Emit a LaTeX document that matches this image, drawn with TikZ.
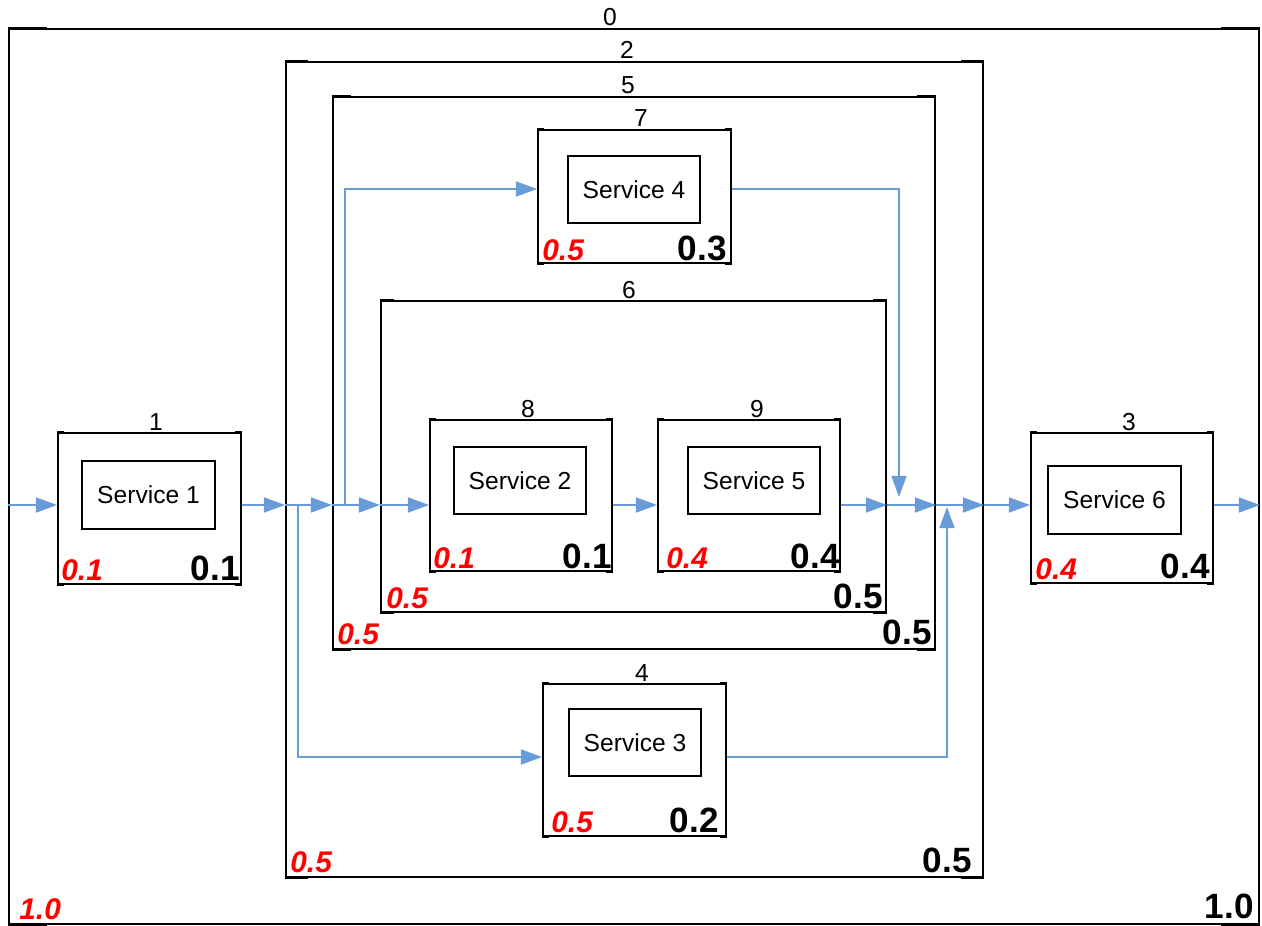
\documentclass[tikz,border=0pt]{standalone}
\usepackage{fontspec}
\setmainfont{Liberation Sans}
\usetikzlibrary{arrows.meta,fit}
\definecolor{flowblue}{RGB}{106,155,217}
\definecolor{valred}{RGB}{255,0,0}
\newcommand\idxfont{\fontsize{14}{17}\selectfont}
\newcommand\svcfont{\fontsize{14}{17}\selectfont}
\newcommand\bigvalfont{\fontsize{20}{24}\selectfont\bfseries}
\newcommand\redvalfont{\fontsize{17}{20}\selectfont\bfseries\itshape}
% thicker short pieces at the four corners of a block
\newcommand\cornermarks[2]{%
  \draw[cornermark] (#1.north west) -- ([xshift=#2]#1.north west);
  \draw[cornermark] (#1.north east) -- ([xshift=-#2]#1.north east);
  \draw[cornermark] (#1.south west) -- ([xshift=#2]#1.south west);
  \draw[cornermark] (#1.south east) -- ([xshift=-#2]#1.south east);
}
\begin{document}
\begin{tikzpicture}[x=0.02cm,y=-0.02cm,
  block/.style={draw=black, line width=1.1pt, inner sep=0pt, fit={#1}},
  svcbox/.style={draw=black, line width=0.6pt, inner sep=0pt, fit={#1}},
  svctext/.style={inner sep=0pt, font=\svcfont},
  cornermark/.style={draw=black, line width=1.7pt},
  idx/.style={anchor=base, inner sep=0pt, font=\idxfont},
  rv/.style={anchor=base west, inner sep=0pt, text=valred, font=\redvalfont},
  bv/.style={anchor=base east, inner sep=0pt, font=\bigvalfont},
  flow/.style={draw=flowblue, line width=1.1pt, -{Triangle[length=12pt,width=8.5pt]}},
]
\useasboundingbox (0,0) rectangle (1262,926);

% nested blocks
\node[block={(9,29) (1259,924)}]     (b0) {};
\node[block={(286,62) (983,877)}]    (b2) {};
\node[block={(333,97) (935,649)}]    (b5) {};
\node[block={(538,130) (731,263)}]   (b7) {};
\node[block={(381,301) (886,612)}]   (b6) {};
\node[block={(430,420) (612,571)}]   (b8) {};
\node[block={(658,420) (840,571)}]   (b9) {};
\node[block={(543,684) (726,836)}]   (b4) {};
\node[block={(58,433) (241,584)}]    (b1) {};
\node[block={(1031,433) (1213,583)}] (b3) {};

\cornermarks{b0}{22pt}
\cornermarks{b2}{13pt}
\cornermarks{b5}{11pt}
\cornermarks{b6}{8pt}
\foreach \n in {b7,b8,b9,b4,b1,b3} {\cornermarks{\n}{4pt}}

% services
\node[svcbox={(82,461) (215,529)}]    (s1) {};
\node[svcbox={(454,447) (586,514)}]   (s2) {};
\node[svcbox={(569,709) (701,776)}]   (s3) {};
\node[svcbox={(568,156) (700,223)}]   (s4) {};
\node[svcbox={(688,447) (820,514)}]   (s5) {};
\node[svcbox={(1048,466) (1181,534)}] (s6) {};
\node[svctext] (n1) at (s1.center) {Service 1};
\node[svctext] (n2) at (s2.center) {Service 2};
\node[svctext] (n3) at (s3.center) {Service 3};
\node[svctext] (n4) at (s4.center) {Service 4};
\node[svctext] (n5) at (s5.center) {Service 5};
\node[svctext] (n6) at (s6.center) {Service 6};

% block numbers
\node[idx] (t0) at (610,26)   {0};
\node[idx] (t2) at (627,59)   {2};
\node[idx] (t5) at (628,94)   {5};
\node[idx] (t7) at (641,127)  {7};
\node[idx] (t6) at (629,298)  {6};
\node[idx] (t8) at (528,417)  {8};
\node[idx] (t9) at (757,417)  {9};
\node[idx] (t4) at (642,681)  {4};
\node[idx] (t1) at (156,430)  {1};
\node[idx] (t3) at (1129,430) {3};

% values: red lower left, black lower right
\node[rv] (r0) at ([shift={(11,-5)}]b0.south west) {1.0};
\node[bv] (v0) at ([shift={(-6,-6)}]b0.south east) {1.0};
\node[rv] (r2) at ([shift={(5,-5)}]b2.south west) {0.5};
\node[bv] (v2) at ([shift={(-12,-5)}]b2.south east) {0.5};
\node[rv] (r5) at ([shift={(5,-5)}]b5.south west) {0.5};
\node[bv] (v5) at ([shift={(-4,-5)}]b5.south east) {0.5};
\node[rv] (r6) at ([shift={(6,-4)}]b6.south west) {0.5};
\node[bv] (v6) at ([shift={(-4,-4)}]b6.south east) {0.5};
\node[rv] (r7) at ([shift={(5,-3)}]b7.south west) {0.5};
\node[bv] (v7) at ([shift={(-5,-3)}]b7.south east) {0.3};
\node[rv] (r8) at ([shift={(4,-3)}]b8.south west) {0.1};
\node[bv] (v8) at ([shift={(-1,-3)}]b8.south east) {0.1};
\node[rv] (r9) at ([shift={(9,-3)}]b9.south west) {0.4};
\node[bv] (v9) at ([shift={(-1,-3)}]b9.south east) {0.4};
\node[rv] (r4) at ([shift={(9,-4)}]b4.south west) {0.5};
\node[bv] (v4) at ([shift={(-8,-4)}]b4.south east) {0.2};
\node[rv] (r1) at ([shift={(4,-4)}]b1.south west) {0.1};
\node[bv] (v1) at ([shift={(-2,-4)}]b1.south east) {0.1};
\node[rv] (r3) at ([shift={(5,-4)}]b3.south west) {0.4};
\node[bv] (v3) at ([shift={(-4,-5)}]b3.south east) {0.4};

% flow levels and branch points
\coordinate (m)  at (0,505);
\coordinate (hi) at (0,189);
\coordinate (lo) at (0,757);
\coordinate (fork1) at (345,505);
\coordinate (fork2) at (298,505);
\coordinate (join1) at (899,497);
\coordinate (join2) at (947,507);

% main path
\draw[flow] (b0.west |- m) -- (b1.west |- m);
\draw[flow] (b1.east |- m) -- (b2.west |- m);
\draw[flow] (b2.west |- m) -- (b5.west |- m);
\draw[flow] (b5.west |- m) -- (b6.west |- m);
\draw[flow] (b6.west |- m) -- (b8.west |- m);
\draw[flow] (b8.east |- m) -- (b9.west |- m);
\draw[flow] (b9.east |- m) -- (b6.east |- m);
\draw[flow] (b6.east |- m) -- (b5.east |- m);
\draw[flow] (b5.east |- m) -- (b2.east |- m);
\draw[flow] (b2.east |- m) -- (b3.west |- m);
\draw[flow] (b3.east |- m) -- (b0.east |- m);

% parallel branches
\draw[flow] (fork1) |- (b7.west |- hi);
\draw[flow] (b7.east |- hi) -| (join1);
\draw[flow] (fork2) |- (b4.west |- lo);
\draw[flow] (b4.east |- lo) -| (join2);
\end{tikzpicture}
\end{document}
